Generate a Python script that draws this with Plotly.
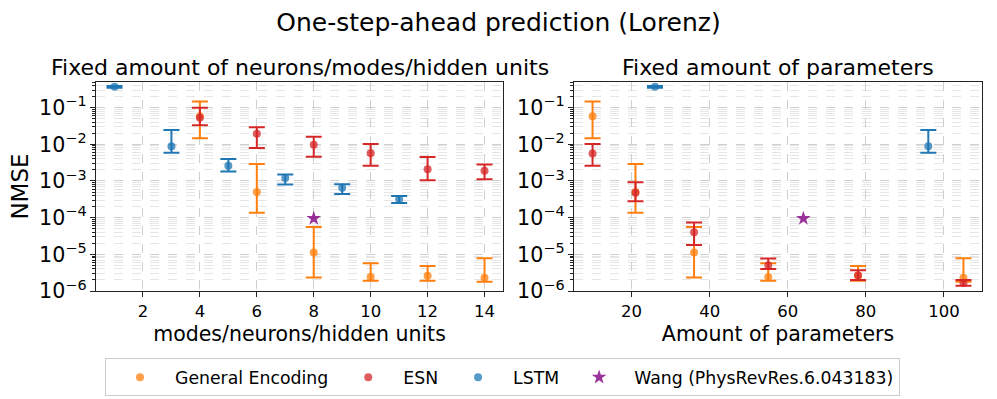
import math

import plotly.graph_objects as go

# left panel: x = modes / neurons / hidden units
modes = [4, 6, 8, 10, 12, 14]
ge_nmse = [0.058, 5.0e-4, 1.12e-5, 2.4e-6, 2.6e-6, 2.3e-6]
ge_hi = [0.146, 2.9e-3, 5.6e-5, 5.7e-6, 4.8e-6, 7.8e-6]
ge_lo = [0.0146, 1.35e-4, 2.35e-6, 1.9e-6, 1.9e-6, 1.8e-6]

esn_neurons = [4, 6, 8, 10, 12, 14]
esn_nmse = [0.053, 0.0195, 0.0098, 0.0057, 0.0021, 0.0019]
esn_hi = [0.10, 0.029, 0.016, 0.0102, 0.0045, 0.0028]
esn_lo = [0.033, 0.0079, 0.0046, 0.0026, 0.00105, 0.00112]

lstm_hidden = [1, 3, 5, 7, 9, 11]
lstm_nmse = [0.37, 0.0088, 0.0026, 0.0012, 0.00065, 0.00032]
lstm_hi = [0.39, 0.0245, 0.0040, 0.0015, 0.00081, 0.00039]
lstm_lo = [0.35, 0.0059, 0.0018, 0.0008, 0.00044, 0.00025]

# right panel: x = amount of parameters
ge_params = [10, 21, 36, 55, 78, 105]

esn_params = [10, 21, 36, 55, 78, 105]
esn_p_nmse = [0.0056, 4.8e-4, 4.0e-5, 5.0e-6, 2.7e-6, 1.65e-6]
esn_p_hi = [0.0102, 9.3e-4, 7.4e-5, 7.7e-6, 3.7e-6, 2.0e-6]
esn_p_lo = [0.0026, 2.8e-4, 1.8e-5, 4.0e-6, 2.0e-6, 1.4e-6]

lstm_params = [26, 96]
lstm_p_nmse = [0.37, 0.0088]
lstm_p_hi = [0.39, 0.0245]
lstm_p_lo = [0.35, 0.0059]

wang_x = [8]
wang_params = [64]
wang_nmse = [9.5e-5]

FONT = 'DejaVu Sans'
ORANGE = '#ff7f0e'
RED = '#d62728'
BLUE = '#1f77b4'
PURPLE = '#800080'


def err_trace(x, y, hi, lo, color, name, xaxis, yaxis, showlegend):
    return go.Scatter(
        x=x,
        y=y,
        mode='markers',
        name=name,
        legendgroup=name,
        showlegend=showlegend,
        xaxis=xaxis,
        yaxis=yaxis,
        marker=dict(color=color, size=8, opacity=0.75),
        error_y=dict(
            type='data',
            symmetric=False,
            array=[h - v for h, v in zip(hi, y)],
            arrayminus=[v - l for v, l in zip(y, lo)],
            color=color,
            thickness=2,
            width=8,
        ),
    )


fig = go.Figure()

# left panel
fig.add_trace(err_trace(modes, ge_nmse, ge_hi, ge_lo, ORANGE, 'General Encoding', 'x', 'y', True))
fig.add_trace(err_trace(esn_neurons, esn_nmse, esn_hi, esn_lo, RED, 'ESN', 'x', 'y', True))
fig.add_trace(err_trace(lstm_hidden, lstm_nmse, lstm_hi, lstm_lo, BLUE, 'LSTM', 'x', 'y', True))
fig.add_trace(go.Scatter(
    x=wang_x, y=wang_nmse, mode='markers', name='Wang (PhysRevRes.6.043183)',
    legendgroup='wang', xaxis='x', yaxis='y',
    marker=dict(symbol='star', color=PURPLE, size=11, opacity=0.8),
))

# right panel
fig.add_trace(err_trace(ge_params, ge_nmse, ge_hi, ge_lo, ORANGE, 'General Encoding', 'x2', 'y2', False))
fig.add_trace(err_trace(esn_params, esn_p_nmse, esn_p_hi, esn_p_lo, RED, 'ESN', 'x2', 'y2', False))
fig.add_trace(err_trace(lstm_params, lstm_p_nmse, lstm_p_hi, lstm_p_lo, BLUE, 'LSTM', 'x2', 'y2', False))
fig.add_trace(go.Scatter(
    x=wang_params, y=wang_nmse, mode='markers', name='Wang (PhysRevRes.6.043183)',
    legendgroup='wang', showlegend=False, xaxis='x2', yaxis='y2',
    marker=dict(symbol='star', color=PURPLE, size=11, opacity=0.8),
))

grid = dict(
    automargin=False,
    showgrid=True,
    gridcolor='#cfcfcf',
    griddash='dash',
    gridwidth=1,
    showline=True,
    linecolor='#222222',
    linewidth=1.2,
    mirror=True,
    ticks='outside',
    ticklen=5,
    tickcolor='#222222',
    tickfont=dict(family=FONT, size=16.5, color='black'),
    zeroline=False,
)

yaxis_common = dict(
    grid,
    type='log',
    range=[-6, math.log10(0.5)],
    dtick=1,
    exponentformat='power',
    minor=dict(
        ticks='outside',
        ticklen=3,
        tickcolor='#222222',
        showgrid=True,
        gridcolor='#e6e6e6',
        griddash='dash',
        gridwidth=1,
        dtick='D1',
    ),
)

fig.update_layout(
    width=997,
    height=399,
    margin=dict(l=96, r=15, t=82, b=108),
    plot_bgcolor='white',
    paper_bgcolor='white',
    font=dict(family=FONT, color='black'),
    title=dict(
        text='One-step-ahead prediction (Lorenz)',
        x=0.5,
        xanchor='center',
        y=1 - 22 / 399,
        yanchor='middle',
        font=dict(family=FONT, size=25, color='black'),
    ),
    xaxis=dict(
        grid,
        domain=[0, 0.4594],
        range=[0.35, 14.65],
        tick0=2,
        dtick=2,
        anchor='y',
        title=dict(text='modes/neurons/hidden units', standoff=6,
                   font=dict(family=FONT, size=20.5)),
    ),
    yaxis=dict(
        yaxis_common,
        anchor='x',
        title=dict(text='NMSE', standoff=4, font=dict(family=FONT, size=23)),
    ),
    xaxis2=dict(
        grid,
        domain=[0.5395, 1],
        range=[5.25, 109.75],
        tick0=0,
        dtick=20,
        anchor='y2',
        title=dict(text='Amount of parameters', standoff=6,
                   font=dict(family=FONT, size=20.5)),
    ),
    yaxis2=dict(yaxis_common, anchor='x2'),
    annotations=[
        dict(text='Fixed amount of neurons/modes/hidden units', xref='paper', yref='paper',
             x=0.2297, y=1.067, xanchor='center', yanchor='middle', showarrow=False,
             font=dict(family=FONT, size=22)),
        dict(text='Fixed amount of parameters', xref='paper', yref='paper',
             x=0.77, y=1.067, xanchor='center', yanchor='middle', showarrow=False,
             font=dict(family=FONT, size=22)),
    ],
    legend=dict(
        orientation='h',
        xref='container',
        yref='container',
        x=0.504,
        xanchor='center',
        y=0.054,
        yanchor='middle',
        itemwidth=60,
        bordercolor='#cccccc',
        borderwidth=1,
        bgcolor='white',
        font=dict(family=FONT, size=17.3),
    ),
)

# drop the default body margin so the figure sits at the window's top-left corner
fig.write_html(
    'out.html',
    config=dict(displayModeBar=False),
    post_script="document.body.style.margin = '0';",
)
